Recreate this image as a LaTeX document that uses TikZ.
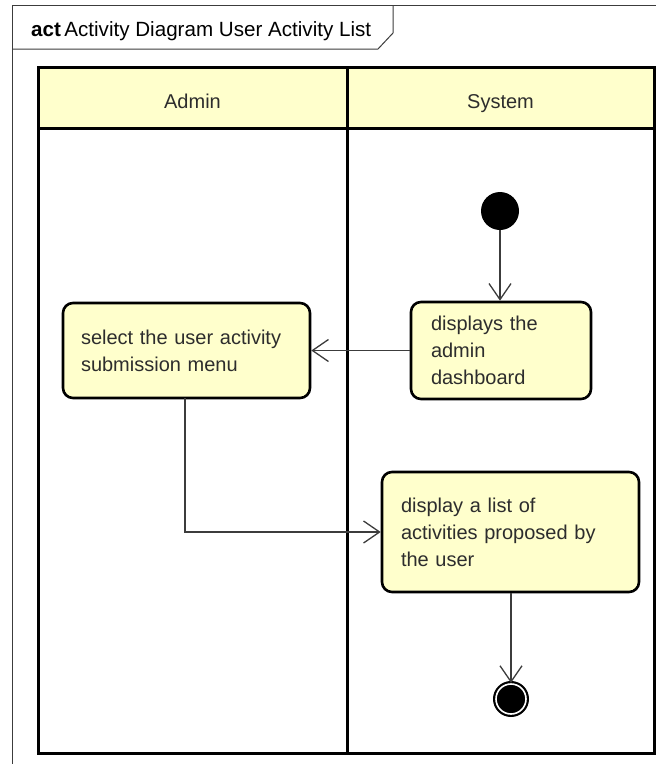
\documentclass[tikz,border=0pt]{standalone}
\usepackage{fontspec}
\setmainfont{Liberation Sans}
\usetikzlibrary{arrows.meta}
\definecolor{laneyellow}{RGB}{255,255,204}
\definecolor{txtgray}{RGB}{45,45,45}
\definecolor{linegray}{RGB}{60,60,60}
\tikzset{
  action/.style={draw=black,line width=2.6pt,fill=laneyellow,rounded corners=10pt,
    align=left,inner ysep=0pt,text=txtgray,font=\fontsize{20}{27}\selectfont},
  flow/.style={draw=linegray,line width=1.3pt,-{Straight Barb[length=16pt,width=22pt,line width=1.3pt]}},
  lanehead/.style={anchor=base,inner sep=0pt,text=txtgray,font=\fontsize{20}{24}\selectfont}
}
\begin{document}
\begin{tikzpicture}[x=1pt,y=1pt,yscale=-1,xscale=1]
\useasboundingbox (0,0) rectangle (656,764);

%Frame
\draw [color=linegray,line width=1pt] (12,780) -- (12,5) -- (670,5) ;
%Frame tab
\draw [color=linegray,line width=1pt] (12,49) -- (378,49) -- (393,33) -- (393,5) ;
\node [anchor=base west,inner sep=0pt,text=black,font=\fontsize{20.6}{24}\selectfont] (title) at (31,36) {\textbf{act}\,Activity Diagram User Activity List};

%Swimlane headers
\fill [laneyellow] (38,67) rectangle (654,128) ;
\draw [line width=3pt] (38,67) rectangle (654,753) ;
\draw [line width=3pt] (38,128) -- (654,128) ;
\draw [line width=3pt] (347,67) -- (347,753) ;
\node [lanehead] (admin) at (192.5,108) {Admin};
\node [lanehead] (system) at (500.5,108) {System};

%Initial node
\node [circle,fill=black,inner sep=0pt,minimum size=38pt] (start) at (500,211) {};

%Actions
\node [action,text width=140pt,inner xsep=20pt,minimum height=97pt] (dash) at (501,350.5) {displays the\\admin\\dashboard};
\node [action,text width=211pt,inner xsep=18pt,minimum height=95pt] (menu) at (186.5,350.5) {select the user activity\\submission menu};
\node [action,text width=219pt,inner xsep=19pt,minimum height=120pt] (list) at (510.5,532) {display a list of\\activities proposed by\\the user};

%Final node
\node [circle,fill=black,draw=black,line width=2.2pt,double=white,double distance=1.6pt,inner sep=0pt,minimum size=30pt] (stop) at (511,699) {};

%Flows
\draw [flow] (start.south) -- (start.south |- dash.north) ;
\draw [flow] (dash.west) -- (menu.east) ;
\draw [flow] (185,398) coordinate (menuout) |- (list.west) ;
\draw [flow] (list.south -| stop.north) -- (stop.north) ;

\end{tikzpicture}
\end{document}
